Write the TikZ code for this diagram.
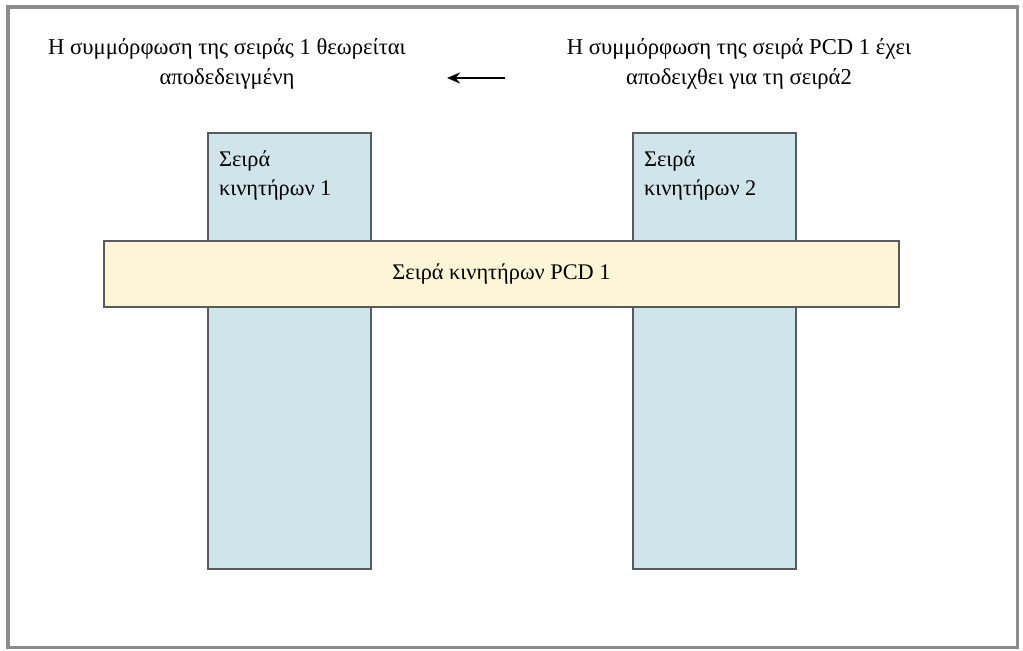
\documentclass[tikz,border=0pt]{standalone}
\usepackage{fontspec}
\setmainfont{Liberation Serif}
\usetikzlibrary{arrows.meta, positioning}
\definecolor{cframe}{HTML}{8C8C8C}
\definecolor{cedge}{HTML}{555B5E}
\definecolor{cblue}{HTML}{CFE5EA}
\definecolor{cyellow}{HTML}{FDF5D5}
\tikzset{
  every picture/.style={line width=1.2pt},
  serie/.style={draw=cedge, fill=cblue, minimum width=3.26cm, minimum height=8.72cm, anchor=north west, inner sep=0pt},
  pcd/.style={draw=cedge, fill=cyellow, minimum width=15.9cm, minimum height=1.32cm, anchor=north west, inner sep=0pt},
  lbl/.style={font=\fontsize{12.7}{16.5}\selectfont, align=left, anchor=north west, inner sep=0pt},
  note/.style={font=\fontsize{12.9}{17.5}\selectfont, align=center, inner sep=0pt},
  arrow/.style={-{Stealth[length=2.6mm, width=2.2mm]}, draw=black, line width=1.5pt},
}

\begin{document}
\begin{tikzpicture}[x=0.02cm, y=-0.02cm]
  \useasboundingbox (0,0) rectangle (1023,650);
  \node[draw=cframe, line width=2pt, minimum width=20.2cm, minimum height=12.82cm, anchor=north west, inner sep=0pt] (frame) at (6,5) {};
  \node[note] (done) at (227,64) {Η συμμόρφωση της σειράς 1 θεωρείται\\αποδεδειγμένη};
  \node[note] (shown) at (739,64) {Η συμμόρφωση της σειρά PCD 1 έχει\\αποδειχθει για τη σειρά2};
  \coordinate (arrS) at (505,78);
  \coordinate (arrE) at (447,78);
  \draw[arrow] (arrS) -- (arrE);
  \node[serie] (serie1) at (207,132) {};
  \node[serie] (serie2) at (632,132) {};
  \node[lbl] at ([shift={(11,18)}]serie1.north west) {Σειρά\\κινητήρων 1};
  \node[lbl] at ([shift={(11,18)}]serie2.north west) {Σειρά\\κινητήρων 2};
  \node[pcd] (pcd) at (103,240) {};
  \node[lbl, anchor=center] at (pcd.center) {Σειρά κινητήρων PCD 1};
\end{tikzpicture}
\end{document}
